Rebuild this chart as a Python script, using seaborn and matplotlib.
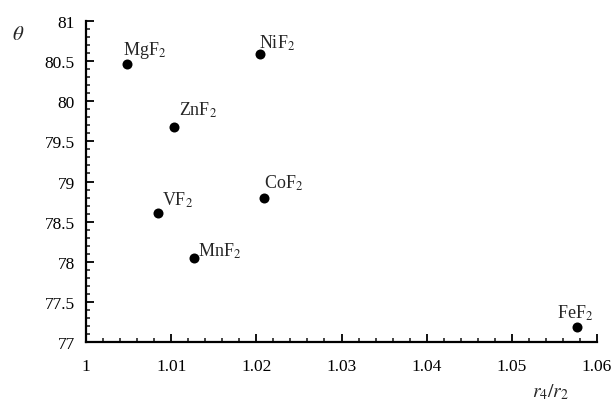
import matplotlib
matplotlib.use("Agg")
import matplotlib.pyplot as plt
import seaborn as sns
import pandas as pd
from matplotlib.ticker import MultipleLocator, FuncFormatter

# --- data ---
compounds = ["MgF$_2$", "NiF$_2$", "ZnF$_2$", "CoF$_2$", "VF$_2$", "MnF$_2$", "FeF$_2$"]
r_ratio = [1.0048, 1.0204, 1.0103, 1.0209, 1.0085, 1.0127, 1.0577]
theta = [80.46, 80.585, 79.68, 78.79, 78.61, 78.05, 77.19]
# label offsets in pixels (dx, dy) relative to each point
label_dx = [-4, -1, 5, 0, 4, 4, -20]
label_dy = [15, 12, 18, 16, 14, 8, 15]

df = pd.DataFrame({"compound": compounds, "r": r_ratio, "theta": theta})

sns.set_style("ticks")
plt.rcParams["font.family"] = ["Liberation Serif", "DejaVu Serif"]
plt.rcParams["mathtext.fontset"] = "stix"

fig = plt.figure(figsize=(6.13, 4.02), dpi=100)
ax = fig.add_axes([0.1403, 0.146, 0.8336, 0.80])

sns.scatterplot(data=df, x="r", y="theta", ax=ax, color="black", s=52,
                edgecolor="black", linewidth=0, zorder=3, clip_on=False)

for name, x, y, dx, dy in zip(compounds, r_ratio, theta, label_dx, label_dy):
    ax.annotate(name, (x, y), xytext=(dx, dy), textcoords="offset pixels",
                ha="left", va="center", fontsize=13)

ax.set_xlim(1.0, 1.06)
ax.set_ylim(77, 81)
ax.xaxis.set_major_locator(MultipleLocator(0.01))
ax.xaxis.set_minor_locator(MultipleLocator(0.002))
ax.yaxis.set_major_locator(MultipleLocator(0.5))
ax.yaxis.set_minor_locator(MultipleLocator(0.1))
ax.xaxis.set_major_formatter(FuncFormatter(lambda v, p: f"{v:g}"))
ax.yaxis.set_major_formatter(FuncFormatter(lambda v, p: f"{v:g}"))

ax.tick_params(which="major", direction="in", length=6, width=1.3, labelsize=12.5, colors="black")
ax.tick_params(axis="x", which="major", pad=11)
ax.tick_params(axis="y", which="major", pad=8)
ax.tick_params(which="minor", direction="in", length=3, width=1.2)

sns.despine(ax=ax)
for s in ["left", "bottom"]:
    ax.spines[s].set_linewidth(1.6)
    ax.spines[s].set_color("black")

ax.set_xlabel("")
ax.set_ylabel("")
ax.text(-0.133, 0.958, r"$\theta$", transform=ax.transAxes, fontsize=15, ha="center", va="center")
ax.text(0.908, -0.152, r"$r_4/r_2$", transform=ax.transAxes, fontsize=14, ha="center", va="center")

fig.savefig("out.png", dpi=100)
